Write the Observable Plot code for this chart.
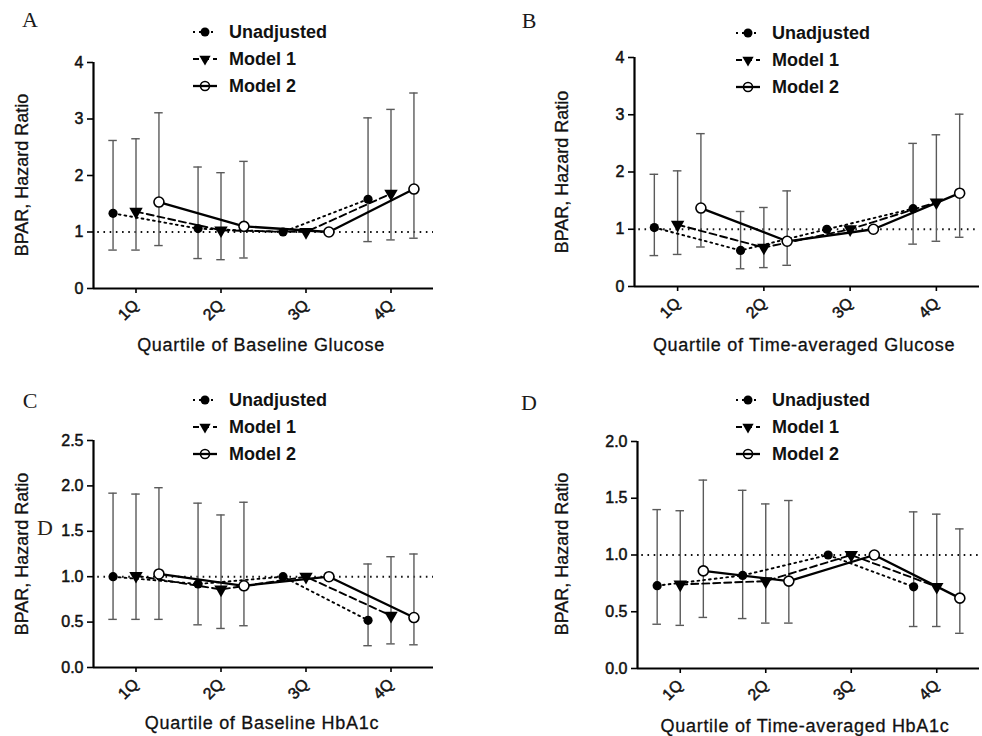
<!DOCTYPE html>
<html>
<head>
<meta charset="utf-8">
<script src="https://cdn.jsdelivr.net/npm/d3@7"></script>
<script src="https://cdn.jsdelivr.net/npm/@observablehq/plot@0.6"></script>
<style>
  html, body { margin: 0; padding: 0; background: #fff; }
  #wrap { position: relative; width: 982px; height: 736px; overflow: hidden; background: #fff; }
  .panel { position: absolute; }
  svg.panel text { stroke: #111 !important; stroke-width: 0.5px !important; }
  #overlay { position: absolute; left: 0; top: 0; pointer-events: none; }
</style>
</head>
<body>
<div id="wrap"></div>
<script>
// ---------- data ----------
const quartiles = ["1Q", "2Q", "3Q", "4Q"];
const seriesNames = ["Unadjusted", "Model 1", "Model 2"];
const panelLetters = ["A", "B", "C", "D"];
const xTitles = ["Quartile of Baseline Glucose", "Quartile of Time-averaged Glucose",
                 "Quartile of Baseline HbA1c", "Quartile of Time-averaged HbA1c"];
const yTitle = "BPAR, Hazard Ratio";
const yTicksA = [0, 1, 2, 3, 4];
const yTicksB = [0, 1, 2, 3, 4];
const yTicksC = [0, 0.5, 1.0, 1.5, 2.0, 2.5];
const yTicksD = [0, 0.5, 1.0, 1.5, 2.0];

// rows: Unadjusted, Model 1, Model 2 ; columns: 1Q..4Q (3Q = reference)
const A_hr = [[1.33, 1.06, 1.0, 1.58], [1.36, 1.03, 1.0, 1.68], [1.53, 1.10, 1.0, 1.76]];
const A_lo = [[0.68, 0.53, null, 0.83], [0.68, 0.51, null, 0.86], [0.76, 0.54, null, 0.89]];
const A_hi = [[2.62, 2.15, null, 3.02], [2.65, 2.05, null, 3.17], [3.11, 2.25, null, 3.46]];

const B_hr = [[1.03, 0.63, 1.0, 1.36], [1.08, 0.68, 1.0, 1.47], [1.37, 0.79, 1.0, 1.63]];
const B_lo = [[0.54, 0.31, null, 0.74], [0.56, 0.33, null, 0.79], [0.69, 0.37, null, 0.86]];
const B_hi = [[1.96, 1.31, null, 2.50], [2.02, 1.38, null, 2.65], [2.67, 1.67, null, 3.01]];

const C_hr = [[1.00, 0.92, 1.0, 0.52], [1.01, 0.86, 1.0, 0.57], [1.03, 0.90, 1.0, 0.55]];
const C_lo = [[0.53, 0.47, null, 0.24], [0.53, 0.43, null, 0.26], [0.53, 0.46, null, 0.25]];
const C_hi = [[1.92, 1.81, null, 1.14], [1.91, 1.68, null, 1.22], [1.98, 1.82, null, 1.25]];

const D_hr = [[0.73, 0.82, 1.0, 0.72], [0.74, 0.77, 1.0, 0.72], [0.86, 0.77, 1.0, 0.62]];
const D_lo = [[0.39, 0.44, null, 0.37], [0.38, 0.40, null, 0.37], [0.45, 0.40, null, 0.31]];
const D_hi = [[1.40, 1.57, null, 1.38], [1.39, 1.45, null, 1.36], [1.66, 1.48, null, 1.23]];

// ---------- layout ----------
const panels = [
  {hr: A_hr, lo: A_lo, hi: A_hi, ticks: yTicksA, fmt: d3.format("d"),  left: 0,   top: 0,   mL: 93,  mR: 58, mT: 62, mB: 80},
  {hr: B_hr, lo: B_lo, hi: B_hi, ticks: yTicksB, fmt: d3.format("d"),  left: 491, top: 0,   mL: 143, mR: 3,  mT: 57, mB: 82},
  {hr: C_hr, lo: C_lo, hi: C_hi, ticks: yTicksC, fmt: d3.format(".1f"), left: 0,   top: 368, mL: 93,  mR: 58, mT: 72, mB: 69},
  {hr: D_hr, lo: D_lo, hi: D_hi, ticks: yTicksD, fmt: d3.format(".1f"), left: 491, top: 368, mL: 146, mR: 3,  mT: 73, mB: 68}
];
const offsets = [-0.27, 0, 0.27];
const capHalf = 0.05;
const lineStyles = [
  {strokeDasharray: "1.8,4", strokeWidth: 1.9},
  {strokeDasharray: "7,4", strokeWidth: 1.9},
  {strokeDasharray: null, strokeWidth: 2.3}
];
const font = "'Liberation Sans', Arial, sans-serif";

const wrap = document.getElementById("wrap");

panels.forEach((p, pi) => {
  const rows = [];
  p.hr.forEach((vals, s) => vals.forEach((v, q) => {
    rows.push({s, q: q + 1, x: q + 1 + offsets[s], hr: v, lo: p.lo[s][q], hi: p.hi[s][q]});
  }));
  const ci = rows.filter(d => d.lo != null);
  const ser = s => rows.filter(d => d.s === s);
  const yMax = p.ticks[p.ticks.length - 1];

  const chart = Plot.plot({
    width: 491, height: 368,
    marginLeft: p.mL, marginRight: p.mR, marginTop: p.mT, marginBottom: p.mB,
    style: {fontFamily: font, fontSize: "16px", color: "#000", background: "transparent", overflow: "visible"},
    x: {type: "linear", domain: [0.5, 4.5]},
    y: {domain: [0, yMax]},
    marks: [
      Plot.ruleY([1], {x1: 0.55, x2: 4.5, stroke: "#111", strokeWidth: 2, strokeDasharray: "1.6,4.6"}),
      Plot.ruleX(ci, {x: "x", y1: "lo", y2: "hi", stroke: "#5a5a5a", strokeWidth: 1.4}),
      Plot.ruleY(ci, {y: "lo", x1: d => d.x - capHalf, x2: d => d.x + capHalf, stroke: "#5a5a5a", strokeWidth: 1.4}),
      Plot.ruleY(ci, {y: "hi", x1: d => d.x - capHalf, x2: d => d.x + capHalf, stroke: "#5a5a5a", strokeWidth: 1.4}),
      ...[0, 1, 2].map(s => Plot.line(ser(s), {x: "x", y: "hr", stroke: "#000", ...lineStyles[s]})),
      Plot.dot(ser(0), {x: "x", y: "hr", r: 4.6, fill: "#000", symbol: "circle"}),
      Plot.dot(ser(1), {x: "x", y: "hr", r: 5, fill: "#000", symbol: "triangle", rotate: 180}),
      Plot.dot(ser(2), {x: "x", y: "hr", r: 5, fill: "#fff", stroke: "#000", strokeWidth: 1.6, symbol: "circle"}),
      Plot.axisX({ticks: [1, 2, 3, 4], tickFormat: d => quartiles[d - 1], tickRotate: -45,
                  tickSize: 5, tickPadding: 9, strokeWidth: 1.6, label: null, fontSize: 16, fill: "#111"}),
      Plot.axisY({ticks: p.ticks, tickFormat: p.fmt, tickSize: 6, tickPadding: 4, strokeWidth: 1.6,
                  label: null, fontSize: 16, fill: "#111"}),
      Plot.ruleX([0.5], {stroke: "#000", strokeWidth: 2.2}),
      Plot.ruleY([0], {stroke: "#000", strokeWidth: 2.2})
    ]
  });
  chart.classList.add("panel");
  chart.style.left = p.left + "px";
  chart.style.top = p.top + "px";
  wrap.appendChild(chart);
});

// ---------- overlay: titles, panel letters, legends ----------
const svg = d3.select(wrap).append("svg").attr("id", "overlay")
  .attr("width", 982).attr("height", 736);

const letterPos = [[30, 27], [529, 28], [30, 408], [529, 410]];
panelLetters.forEach((l, i) => {
  svg.append("text").attr("x", letterPos[i][0]).attr("y", letterPos[i][1])
    .attr("text-anchor", "middle").attr("font-family", "'Liberation Serif', 'Times New Roman', serif")
    .attr("font-size", 22).attr("fill", "#1a1a1a").text(l);
});
// stray letter present in the reference image
svg.append("text").attr("x", 45).attr("y", 535).attr("text-anchor", "middle")
  .attr("font-family", "'Liberation Serif', 'Times New Roman', serif")
  .attr("font-size", 22).attr("fill", "#2a2215").text("D");

const yTitlePos = [[22, 175], [562, 172], [22, 554], [562, 554]];
yTitlePos.forEach(([x, y]) => {
  svg.append("text").attr("transform", `translate(${x},${y}) rotate(-90)`)
    .attr("text-anchor", "middle").attr("dy", "0.36em")
    .attr("font-family", font).attr("font-size", 18).attr("fill", "#111")
    .attr("stroke", "#111").attr("stroke-width", 0.3).text(yTitle);
});

const xTitlePos = [[261, 345], [804, 345], [262, 723], [805, 726]];
xTitles.forEach((t, i) => {
  svg.append("text").attr("x", xTitlePos[i][0]).attr("y", xTitlePos[i][1])
    .attr("text-anchor", "middle").attr("dy", "0.36em").attr("letter-spacing", "0.7px")
    .attr("font-family", font).attr("font-size", 18).attr("fill", "#111")
    .attr("stroke", "#111").attr("stroke-width", 0.3).text(t);
});

const legendPos = [[193, 32], [736, 33], [193, 400], [736, 400]];
const rowGap = 27;
const triangleDown = d3.symbol(d3.symbolTriangle, 55);
legendPos.forEach(([lx, ly]) => {
  seriesNames.forEach((name, s) => {
    const y = ly + s * rowGap;
    const g = svg.append("g");
    g.append("line").attr("x1", lx).attr("x2", lx + 24).attr("y1", y).attr("y2", y)
      .attr("stroke", "#000").attr("stroke-width", lineStyles[s].strokeWidth)
      .attr("stroke-dasharray", s === 0 ? "2,4" : s === 1 ? "6,4" : null);
    const cx = lx + 12;
    if (s === 0) {
      g.append("circle").attr("cx", cx).attr("cy", y).attr("r", 4.5).attr("fill", "#000");
    } else if (s === 1) {
      g.append("path").attr("d", triangleDown()).attr("transform", `translate(${cx},${y}) rotate(180)`).attr("fill", "#000");
    } else {
      g.append("circle").attr("cx", cx).attr("cy", y).attr("r", 4.5).attr("fill", "none")
        .attr("stroke", "#000").attr("stroke-width", 1.6);
    }
    g.append("text").attr("x", lx + 36).attr("y", y).attr("dy", "0.36em")
      .attr("font-family", font).attr("font-size", 18).attr("font-weight", "bold")
      .attr("fill", "#111").text(name);
  });
});
</script>
</body>
</html>
